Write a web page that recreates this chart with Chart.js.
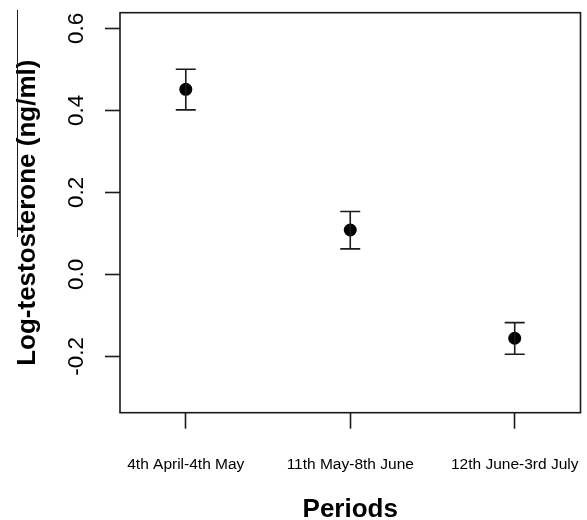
<!DOCTYPE html>
<html>
<head>
<meta charset="utf-8">
<script src="https://cdn.jsdelivr.net/npm/chart.js@4/dist/chart.umd.min.js"></script>
<style>
  html, body { margin: 0; padding: 0; background: #fff; }
  #wrap { width: 587px; height: 520px; }
</style>
</head>
<body>
<div id="wrap"><canvas id="c" width="587" height="520"></canvas></div>
<script>
const periods = ["4th April-4th May", "11th May-8th June", "12th June-3rd July"];
const periodPos = [1, 2, 3];
const meanLogT = [0.451, 0.108, -0.156];
const lowerLogT = [0.401, 0.062, -0.195];
const upperLogT = [0.500, 0.153, -0.118];
const yTickValues = [-0.2, 0.0, 0.2, 0.4, 0.6];
const yTickLabels = ["-0.2", "0.0", "0.2", "0.4", "0.6"];

const INK = '#1a1a1a';
const SANS = "'Liberation Sans', Arial, Helvetica, sans-serif";

const boxPlugin = {
  id: 'rbox',
  afterDatasetsDraw(chart) {
    const ctx = chart.ctx;
    const a = chart.chartArea;
    const xs = chart.scales.x, ys = chart.scales.y;
    ctx.save();
    ctx.strokeStyle = INK;
    ctx.lineWidth = 1.6;
    for (let i = 0; i < periodPos.length; i++) {
      const px = xs.getPixelForValue(periodPos[i]);
      const lo = ys.getPixelForValue(lowerLogT[i]);
      const hi = ys.getPixelForValue(upperLogT[i]);
      ctx.beginPath();
      ctx.moveTo(px, lo); ctx.lineTo(px, hi);
      ctx.moveTo(px - 10, lo); ctx.lineTo(px + 10, lo);
      ctx.moveTo(px - 10, hi); ctx.lineTo(px + 10, hi);
      ctx.stroke();
    }
    ctx.lineWidth = 1.6;
    ctx.strokeRect(a.left, a.top, a.right - a.left, a.bottom - a.top);
    ctx.lineWidth = 1;
    ctx.beginPath();
    ctx.moveTo(17.5, 10); ctx.lineTo(17.5, 237);
    ctx.stroke();
    ctx.restore();
  }
};

new Chart(document.getElementById('c'), {
  type: 'scatter',
  data: {
    datasets: [{
      data: periodPos.map((x, i) => ({ x: x, y: meanLogT[i] })),
      pointRadius: 6.5,
      pointHoverRadius: 6.5,
      pointBackgroundColor: '#000',
      pointBorderColor: '#000',
      pointBorderWidth: 0
    }]
  },
  options: {
    responsive: false,
    animation: false,
    devicePixelRatio: 1,
    layout: { padding: { left: 0, right: 5, top: 12.7, bottom: 0 } },
    plugins: { legend: { display: false }, tooltip: { enabled: false } },
    scales: {
      x: {
        type: 'linear',
        min: 0.6,
        max: 3.4,
        afterBuildTicks: (s) => { s.ticks = periodPos.map(v => ({ value: v })); },
        afterFit: (s) => { s.height = 520 - 412.7; s.paddingLeft = 0; s.paddingRight = 0; },
        border: { display: false },
        grid: { drawOnChartArea: false, drawTicks: true, tickLength: 16, tickWidth: 1.6, tickColor: INK },
        ticks: {
          autoSkip: false,
          maxRotation: 0,
          minRotation: 0,
          padding: 27,
          color: '#000',
          font: { family: SANS, size: 15.5 },
          callback: (v) => { const i = periodPos.indexOf(v); return i >= 0 ? periods[i] : ''; }
        },
        title: {
          display: true,
          text: 'Periods',
          color: '#000',
          font: { family: SANS, size: 26, weight: 'bold', lineHeight: 0.75 },
          padding: { top: 0, bottom: 0 }
        }
      },
      y: {
        type: 'linear',
        min: -0.3376,
        max: 0.638,
        afterBuildTicks: (s) => { s.ticks = yTickValues.map(v => ({ value: v })); },
        afterFit: (s) => { s.width = 120; s.paddingTop = 0; s.paddingBottom = 0; },
        border: { display: false },
        grid: { drawOnChartArea: false, drawTicks: true, tickLength: 15, tickWidth: 1.6, tickColor: INK },
        ticks: {
          minRotation: 90,
          maxRotation: 90,
          crossAlign: 'center',
          padding: 9,
          color: '#000',
          font: { family: SANS, size: 22.5 },
          callback: (v) => { const i = yTickValues.findIndex(t => Math.abs(t - v) < 1e-9); return i >= 0 ? yTickLabels[i] : ''; }
        },
        title: {
          display: true,
          text: 'Log-testosterone (ng/ml)',
          color: '#000',
          font: { family: SANS, size: 26, weight: 'bold', lineHeight: 1.2 },
          padding: { top: 12, bottom: 0 }
        }
      }
    }
  },
  plugins: [boxPlugin]
});
</script>
</body>
</html>
